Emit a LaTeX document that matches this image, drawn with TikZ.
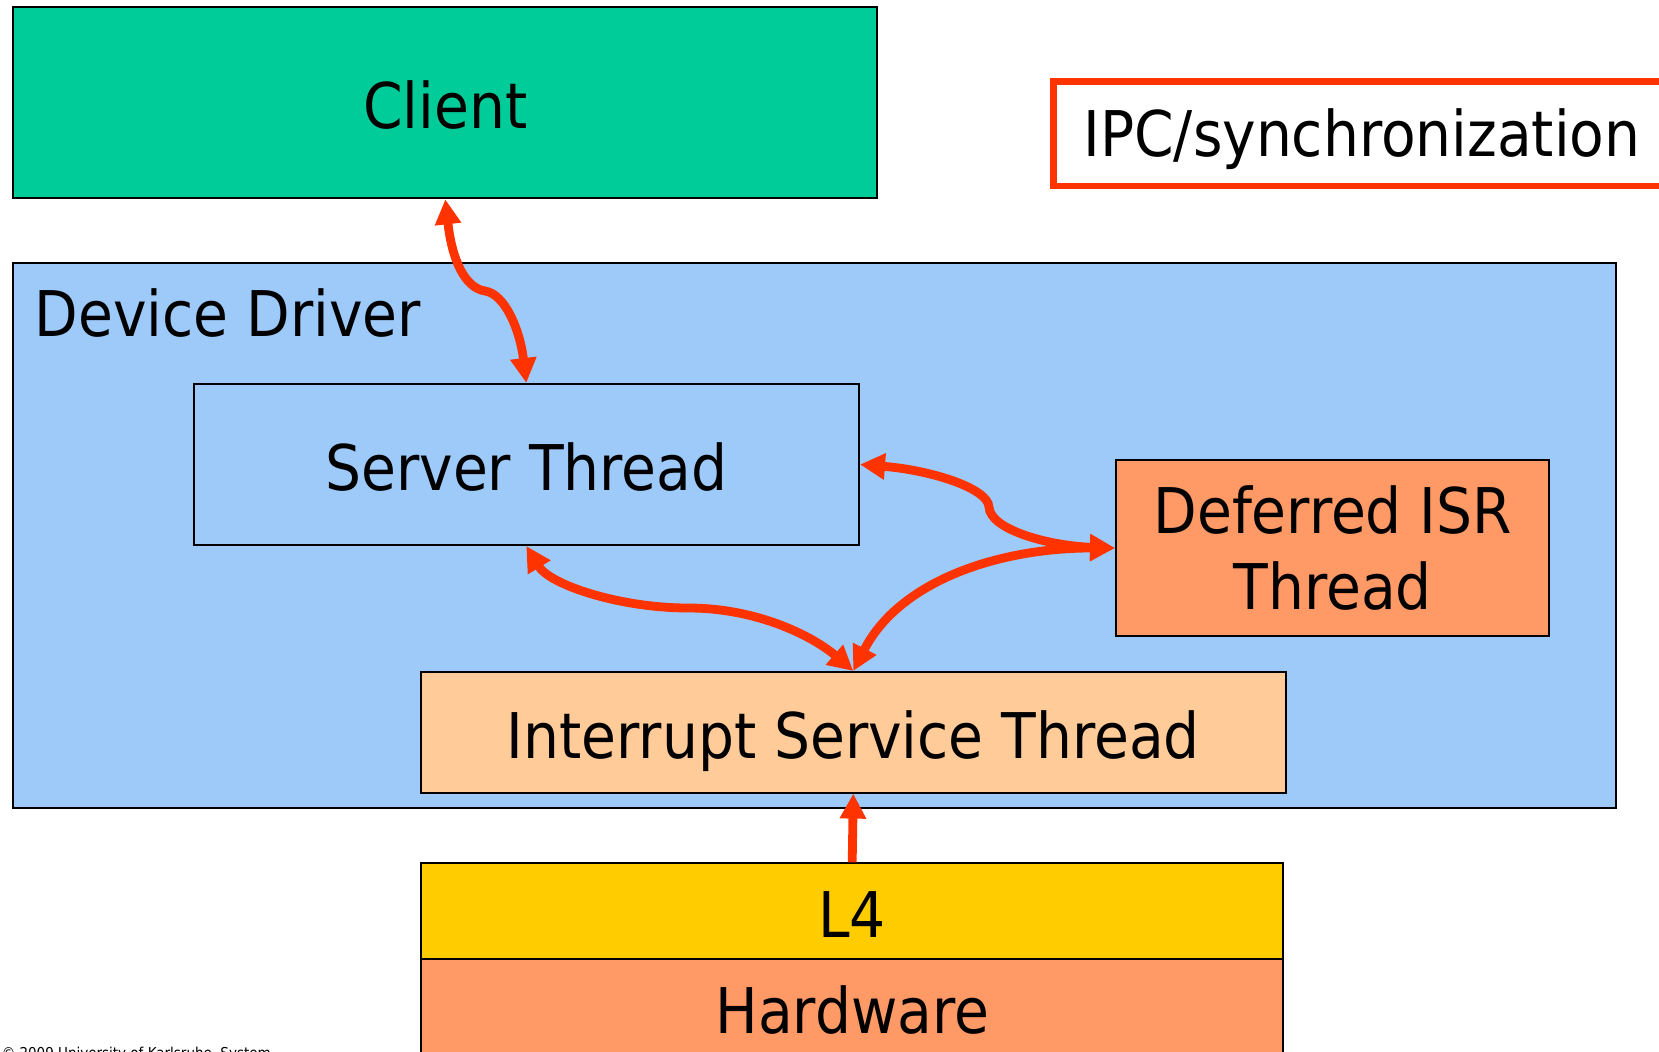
\documentclass[tikz,border=0pt]{standalone}
\usepackage{fontspec}
\setmainfont{DejaVu Sans Condensed}
\usetikzlibrary{arrows.meta}

\definecolor{clientgreen}{RGB}{0,204,153}
\definecolor{driverblue}{RGB}{157,202,249}
\definecolor{isrorange}{RGB}{255,153,102}
\definecolor{istpeach}{RGB}{255,204,153}
\definecolor{kernelyellow}{RGB}{255,204,0}
\definecolor{ipcred}{RGB}{255,51,0}

\tikzset{every picture/.style={line width=0.75pt}}

\begin{document}
\begin{tikzpicture}[x=0.5pt,y=0.5pt,yscale=-1,xscale=1,
  box/.style={draw=black,line width=1pt,inner sep=0pt,font=\fontsize{31.5}{38}\selectfont},
  oneline/.style={text height=25.8pt,text depth=0pt},
  ipc/.style={draw=ipcred,line width=4.4pt},
  >={Triangle[length=12.5pt,width=12.5pt]}]
\useasboundingbox (0,0) rectangle (1659,1052);

%Shape: Rectangle [client]
\node [box,oneline,fill=clientgreen,minimum width=432pt,minimum height=95.8pt] (client) at (445.3,102.5) {Client};

%Shape: Rectangle [legend]
\node [draw=ipcred,line width=3.35pt,outer sep=0pt,anchor=west,text width=310pt,align=left,inner xsep=15pt,inner ysep=0pt,minimum height=52.15pt,text height=22.8pt,text depth=0pt,font=\fontsize{31.5}{38}\selectfont] (legend) at (1053.5,134) {IPC/synchronization};

%Shape: Rectangle [driver]
\node [box,fill=driverblue,minimum width=801.4pt,minimum height=272.1pt] (driver) at (814.7,535.4) {};
% Text Node
\node [anchor=base west,inner sep=0pt,font=\fontsize{31.5}{38}\selectfont] (drvlabel) at (34,337) {Device Driver};

%Shape: Rectangle [server]
\node [box,oneline,fill=driverblue,minimum width=332.7pt,minimum height=80.5pt] (server) at (526.3,464.5) {Server Thread};
%Shape: Rectangle [deferred]
\node [box,fill=isrorange,align=center,minimum width=216.7pt,minimum height=87.9pt] (deferred) at (1332.7,548) {Deferred ISR\\Thread};
%Shape: Rectangle [ist]
\node [box,oneline,fill=istpeach,minimum width=432.3pt,minimum height=60.3pt] (ist) at (853.3,732.3) {Interrupt Service Thread};

%Shape: Rectangle [l4]
\node [box,oneline,fill=kernelyellow,minimum width=431.2pt,minimum height=48pt] (l4) at (852.2,911.3) {L4};
%Shape: Rectangle [hw]
\node [box,oneline,fill=isrorange,minimum width=431.2pt,minimum height=48pt] (hw) at (852.2,1007.3) {Hardware};

% Text Node
\node [anchor=base west,inner sep=0pt,font=\fontsize{7.5}{9}\selectfont] (copy) at (1,1058) {© 2009 University of Karlsruhe, System};

% IPC arrows
\draw [ipc,<->] (client.south) .. controls (452,260) and (465,288) .. (485,291) .. controls (505,294) and (520,330) .. (server.north);
\draw [ipc,<->] (server.east) .. controls (930,470) and (988,488) .. (989,507) .. controls (990,530) and (1050,546) .. (deferred.west);
\draw [ipc,<->] (server.south) .. controls (550,585) and (620,608) .. (688,608) .. controls (760,608) and (815,638) .. (ist.north);
\draw [ipc,<->] (deferred.west) .. controls (1000,548) and (900,580) .. (ist.north);
\draw [ipc,->] (l4.north) -- (ist.south);

\end{tikzpicture}
\end{document}
